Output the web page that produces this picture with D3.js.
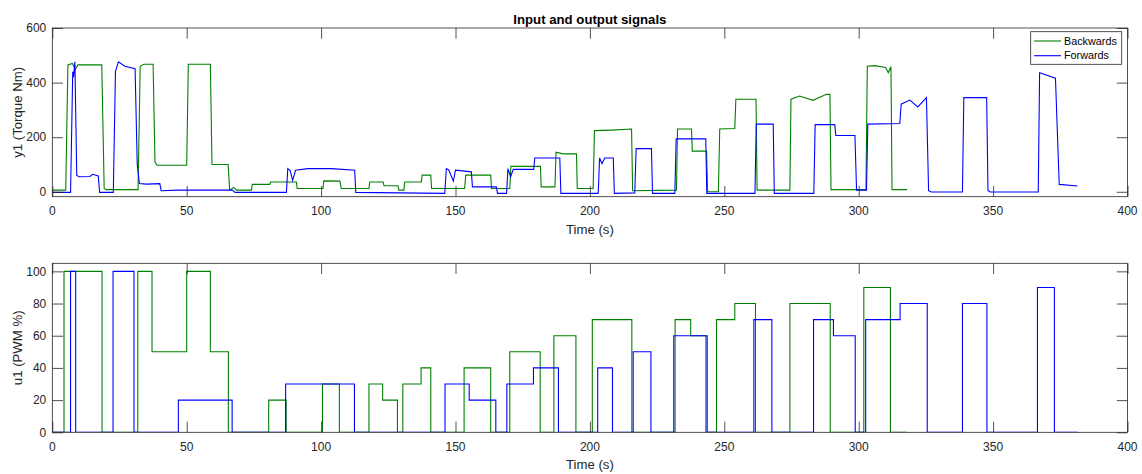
<!DOCTYPE html>
<html>
<head>
<meta charset="utf-8">
<script src="https://cdn.jsdelivr.net/npm/d3@7"></script>
<style>
  html, body { margin: 0; padding: 0; background: #ffffff; }
  svg { display: block; font-family: "Liberation Sans", Arial, Helvetica, sans-serif; }
</style>
</head>
<body>
<svg id="chart" width="1142" height="474"></svg>
<script>
// ---------- data ----------
const xTicks = [0, 50, 100, 150, 200, 250, 300, 350, 400];
const yTicksTop = [0, 200, 400, 600];
const yTicksBottom = [0, 20, 40, 60, 80, 100];
const seriesNames = ["Backwards", "Forwards"];

// Output torque, Backwards (green)
const backwardsOutT = [0, 5.0, 5.8, 7.5, 8.5, 9.5, 18.4, 19.3, 20, 31.9, 32.7, 34, 37.5, 38.2, 39, 50.0, 50.6, 58.8, 59.4, 65.4, 66.0, 67.5, 68.5, 74.1, 74.4, 80.9, 81.2, 90.8, 91.1, 100.7, 101.0, 107.0, 107.5, 117.8, 118.1, 123.1, 123.4, 128.6, 128.9, 130.8, 131.1, 137.3, 137.6, 140.8, 141.1, 153.4, 153.8, 163.1, 163.4, 170.2, 170.6, 181.6, 181.9, 187.0, 187.4, 190, 195.0, 195.3, 201.2, 201.7, 208, 215.5, 215.9, 232.2, 232.6, 237.8, 238.1, 243.4, 243.8, 247.8, 248.3, 253.9, 254.3, 261.8, 262.2, 274.4, 274.8, 278, 283, 288, 289.3, 289.7, 302.7, 303.2, 306, 310, 311, 312.0, 312.4, 318];
const backwardsOutY = [6, 6, 465, 470, 448, 465, 465, 12, 8, 8, 460, 467, 467, 109, 97, 97, 467, 467, 100, 100, 6, 16, 6, 6, 27, 27, 36, 36, 12, 12, 40, 39, 12, 12, 36, 36, 22, 22, 6, 6, 36, 36, 61, 61, 12, 12, 61, 61, 12, 12, 93, 93, 18, 18, 145, 139, 139, 12, 12, 224, 226, 230, 4, 6, 230, 230, 149, 149, 0, 0, 230, 232, 339, 339, 6, 6, 339, 351, 335, 357, 357, 8, 8, 460, 462, 455, 436, 458, 8, 8];

// Output torque, Forwards (blue)
const forwardsOutT = [0, 6.8, 7.6, 7.9, 8.4, 9.1, 10, 14, 15, 17.1, 17.6, 22.7, 23.5, 24.6, 27, 30.8, 31.6, 32.4, 35, 40.0, 40.5, 47, 67, 68, 87.1, 87.6, 88.5, 89.4, 90.5, 95, 104, 112.5, 112.9, 146.0, 146.6, 147.5, 149.2, 150.0, 155.9, 156.3, 165.2, 165.6, 169.0, 169.5, 170.5, 171.5, 179.1, 179.5, 188.8, 189.2, 203.1, 203.6, 204.5, 205.5, 208.7, 209.1, 216.7, 217.2, 222.9, 223.3, 231.6, 232.1, 243.1, 243.5, 261.4, 261.9, 268.2, 268.6, 283.3, 283.8, 291.1, 291.5, 298.6, 299.2, 302.9, 303.4, 315.3, 315.8, 319, 322, 325.2, 326, 327, 338.6, 339.1, 347.6, 348.1, 349, 366.8, 367.3, 373.2, 374.6, 381.4];
const forwardsOutY = [-2, -2, 440, 420, 476, 60, 55, 56, 64, 58, -2, -2, 440, 476, 460, 451, 100, 30, 28, 30, 4, 6, 6, -2, -2, 85, 78, 42, 79, 85, 85, 79, -2, -6, 85, 80, 39, 79, 73, 18, 18, -6, -6, 85, 55, 82, 82, 124, 124, -6, -6, 124, 103, 124, 124, -6, -4, 158, 158, -6, -6, 194, 194, -6, -6, 248, 248, -6, -6, 246, 246, 206, 206, 6, 6, 248, 250, 321, 336, 311, 345, 4, -1, -1, 345, 345, 4, -1, -1, 436, 416, 27, 21];

// Input PWM, Backwards (green) — value holds from each time until the next
const backwardsInT = [0, 4.35, 18.5, 31.8, 37.1, 50.0, 58.8, 65.5, 80.5, 87.0, 100.5, 106.8, 117.8, 122.9, 128.4, 130.4, 137.2, 140.8, 153.2, 163.1, 170.2, 181.5, 186.6, 194.8, 200.9, 215.6, 231.7, 237.5, 243.7, 247.1, 253.9, 261.6, 274.4, 289.4, 301.9, 311.8, 317.9];
const backwardsInU = [0, 100, 0, 100, 50, 100, 50, 0, 20, 0, 30, 0, 30, 20, 0, 30, 40, 0, 40, 0, 50, 0, 60, 0, 70, 0, 70, 60, 0, 70, 80, 0, 80, 0, 90, 0, 0];

// Input PWM, Forwards (blue)
const forwardsInT = [0, 6.8, 8.7, 22.6, 30.4, 46.9, 66.9, 86.8, 112.4, 146.1, 155.1, 165.0, 169.1, 179.0, 188.3, 202.9, 208.4, 216.1, 222.7, 231.2, 243.2, 261.0, 267.7, 283.2, 290.6, 298.7, 302.6, 315.4, 325.5, 338.6, 347.7, 366.5, 372.8, 381.4];
const forwardsInU = [0, 100, 0, 100, 0, 20, 0, 30, 0, 30, 20, 0, 30, 40, 0, 40, 0, 50, 0, 60, 0, 70, 0, 70, 60, 0, 70, 80, 0, 80, 0, 90, 0, 0];

// ---------- layout ----------
const W = 1142, H = 474;
const left = 52.3, right = 1127.5;
const topPanel = { top: 28, bottom: 196.7, yMin: -18, yMax: 600 };
const botPanel = { top: 263.3, bottom: 432.3, yMin: 0, yMax: 105 };
const GREEN = "#008000", BLUE = "#0000ff", AX = "#262626";
const TICK = 10.7;

const svg = d3.select("#chart");
svg.append("rect").attr("width", W).attr("height", H).attr("fill", "#fff");

const x = d3.scaleLinear().domain([0, 400]).range([left, right]);

function drawPanel(p, yTicks, yLabel, clipId, drawData) {
  const y = d3.scaleLinear().domain([p.yMin, p.yMax]).range([p.bottom, p.top]);
  const g = svg.append("g");
  g.append("rect").attr("x", left).attr("y", p.top).attr("width", right - left)
    .attr("height", p.bottom - p.top).attr("fill", "#fff");

  svg.append("clipPath").attr("id", clipId).append("rect")
    .attr("x", left).attr("y", p.top).attr("width", right - left).attr("height", p.bottom - p.top);

  const dg = g.append("g").attr("clip-path", `url(#${clipId})`);
  drawData(dg, y);

  // axes with inward ticks
  const bottomAxis = d3.axisBottom(x).tickValues(xTicks).tickSize(-TICK).tickPadding(0).tickFormat("");
  const topAxis = d3.axisTop(x).tickValues(xTicks).tickSize(-TICK).tickFormat("");
  const leftAxis = d3.axisLeft(y).tickValues(yTicks).tickSize(-TICK).tickFormat("");
  const rightAxis = d3.axisRight(y).tickValues(yTicks).tickSize(-TICK).tickFormat("");
  const axes = [
    [bottomAxis, `translate(0,${p.bottom})`],
    [topAxis, `translate(0,${p.top})`],
    [leftAxis, `translate(${left},0)`],
    [rightAxis, `translate(${right},0)`]
  ];
  axes.forEach(([ax, tr]) => {
    const a = g.append("g").attr("transform", tr).call(ax);
    a.select(".domain").remove();
    a.selectAll("line").attr("stroke", AX).attr("stroke-width", 0.8);
  });
  g.append("rect").attr("x", left).attr("y", p.top).attr("width", right - left)
    .attr("height", p.bottom - p.top).attr("fill", "none").attr("stroke", AX).attr("stroke-width", 0.8);

  // tick labels
  g.selectAll(".xl").data(xTicks).enter().append("text")
    .attr("x", d => x(d)).attr("y", p.bottom + 18.3)
    .attr("text-anchor", "middle").attr("font-size", 12).attr("fill", AX).text(d => d);
  g.selectAll(".yl").data(yTicks).enter().append("text")
    .attr("x", left - 6).attr("y", d => y(d)).attr("dy", "0.35em")
    .attr("text-anchor", "end").attr("font-size", 12).attr("fill", AX).text(d => d);

  // axis labels
  g.append("text").attr("x", (left + right) / 2).attr("y", p.bottom + 37)
    .attr("text-anchor", "middle").attr("font-size", 13.2).attr("fill", AX).text("Time (s)");
  const cy = (p.top + p.bottom) / 2;
  g.append("text").attr("transform", `translate(21.5,${cy}) rotate(-90)`)
    .attr("text-anchor", "middle").attr("font-size", 13.2).attr("fill", AX).text(yLabel);
}

// top panel: outputs
drawPanel(topPanel, yTicksTop, "y1 (Torque Nm)", "clipTop", (dg, y) => {
  const line = d3.line().x(d => x(d[0])).y(d => y(d[1]));
  const back = backwardsOutT.map((t, i) => [t, backwardsOutY[i]]);
  const fwd = forwardsOutT.map((t, i) => [t, forwardsOutY[i]]);
  dg.append("path").attr("d", line(back)).attr("fill", "none").attr("stroke", GREEN).attr("stroke-width", 1.1);
  dg.append("path").attr("d", line(fwd)).attr("fill", "none").attr("stroke", BLUE).attr("stroke-width", 1.1);
});

// bottom panel: inputs
drawPanel(botPanel, yTicksBottom, "u1 (PWM %)", "clipBot", (dg, y) => {
  const stairs = d3.line().x(d => x(d[0])).y(d => y(d[1])).curve(d3.curveStepAfter);
  const back = backwardsInT.map((t, i) => [t, backwardsInU[i]]);
  const fwd = forwardsInT.map((t, i) => [t, forwardsInU[i]]);
  dg.append("path").attr("d", stairs(back)).attr("fill", "none").attr("stroke", GREEN).attr("stroke-width", 1.1);
  dg.append("path").attr("d", stairs(fwd)).attr("fill", "none").attr("stroke", BLUE).attr("stroke-width", 1.1);
});

// title
svg.append("text").attr("x", (left + right) / 2).attr("y", 19).attr("dy", "0.35em")
  .attr("text-anchor", "middle").attr("font-size", 13.2).attr("font-weight", "bold")
  .attr("fill", "#000").text("Input and output signals");

// legend
const lg = svg.append("g");
lg.append("rect").attr("x", 1030.7).attr("y", 31.7).attr("width", 91).attr("height", 32.6)
  .attr("fill", "#fff").attr("stroke", AX).attr("stroke-width", 0.8);
const legColors = [GREEN, BLUE];
seriesNames.forEach((name, i) => {
  const ly = 41 + i * 14.7;
  lg.append("line").attr("x1", 1034).attr("x2", 1061).attr("y1", ly).attr("y2", ly)
    .attr("stroke", legColors[i]).attr("stroke-width", 1.1);
  lg.append("text").attr("x", 1064).attr("y", ly).attr("dy", "0.35em")
    .attr("font-size", 10.8).attr("fill", "#000").text(name);
});
</script>
</body>
</html>
